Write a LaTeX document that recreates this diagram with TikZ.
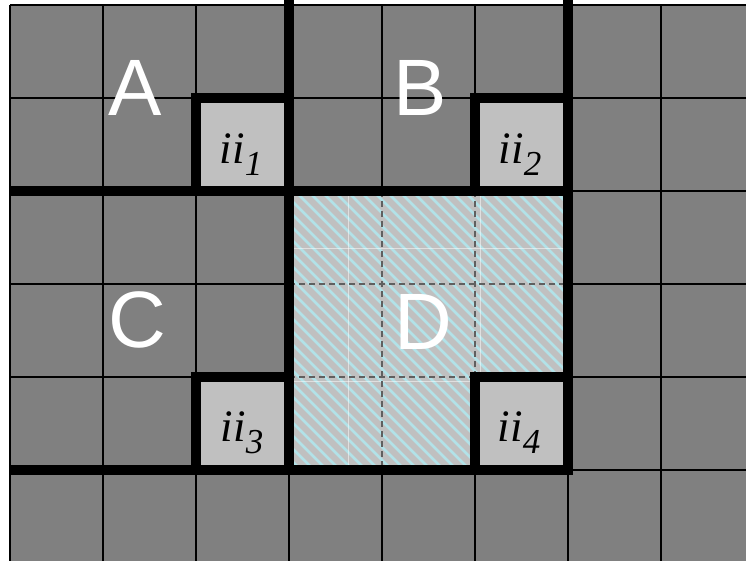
\documentclass[tikz,border=0pt]{standalone}
\usepackage{fontspec}
\setmainfont{Liberation Serif}
\setsansfont{Liberation Sans}
\usetikzlibrary{positioning}
\definecolor{cCell}{HTML}{808080}
\definecolor{cHole}{HTML}{C0C0C0}
\definecolor{cStripe}{HTML}{B2E2E8}
\definecolor{cDash}{HTML}{606060}
\definecolor{cInk}{HTML}{000000}
\tikzset{
  grid/.style={draw=cInk, line width=1.6pt},
  wall/.style={draw=cInk, line width=9.5pt, line cap=rect},
  stripe/.style={draw=cStripe, line width=2.8pt},
  inner/.style={draw=cDash, line width=1.3pt, dash pattern=on 6pt off 4pt},
  ghost/.style={draw=white, line width=0.8pt, opacity=0.5},
  region/.style={font=\sffamily\fontsize{80}{80}\selectfont, text=white, inner sep=0pt},
  hole/.style={font=\rmfamily\itshape\fontsize{45}{45}\selectfont, text=cInk, inner sep=0pt},
}
\newcommand{\iilabel}[1]{ii\raisebox{-12pt}{\fontsize{35}{35}\selectfont #1}}

\begin{document}
\begin{tikzpicture}[x=1pt, y=-1pt]
\useasboundingbox (0,0) rectangle (746,561);
\fill[white] (0,0) rectangle (746,561);
\fill[cCell] (10,5) rectangle (746,561);
% light cells
\foreach \x/\y in {196/98, 475/98, 196/377, 475/377}
  \fill[cHole] (\x,\y) rectangle ++(93,93);
% thin grid
\foreach \x in {10,103,...,661} \draw[grid] (\x,5) -- (\x,561);
\foreach \y in {5,98,...,470} \draw[grid] (10,\y) -- (746,\y);
% region D, hatched
\begin{scope}
  \clip (289,191) -- (568,191) -- (568,377) -- (475,377) -- (475,470) -- (289,470) -- cycle;
  \fill[cHole] (289,191) rectangle (568,470);
  \foreach \k in {0,...,44}
    \draw[stripe] (9+\k*13,191) -- ++(290,290);
  \draw[ghost] (348,191) -- (348,470);
  \draw[ghost] (480,191) -- (480,470);
  \draw[ghost] (289,248) -- (568,248);
  \draw[ghost] (289,381) -- (568,381);
  \foreach \x in {382,475} \draw[inner] (\x,191) -- (\x,470);
  \foreach \y in {284,377} \draw[inner] (289,\y) -- (568,\y);
\end{scope}
% thick walls
\draw[wall] (289,5) -- (289,191);
\draw[wall] (568,5) -- (568,191);
\draw[wall, line cap=butt] (10,191) -- (289,191);
\draw[wall] (289,98) -- (196,98) -- (196,191);
\draw[wall] (568,98) -- (475,98) -- (475,191);
\draw[wall] (289,191) rectangle (568,470);
\draw[wall] (289,377) -- (196,377) -- (196,470);
\draw[wall, line cap=butt] (10,470) -- (289,470);
\draw[wall] (568,377) -- (475,377) -- (475,470);
% labels
\node[region] (regA) at (135,88) {A};
\node[region] (regB) at (420,88) {B};
\node[region] (regC) at (137,320) {C};
\node[region] (regD) at (423,322) {D};
\node[hole] (ii1) at (241,155) {\iilabel{1}};
\node[hole] (ii2) at (520,155) {\iilabel{2}};
\node[hole] (ii3) at (242,433) {\iilabel{3}};
\node[hole] (ii4) at (519,433) {\iilabel{4}};
\end{tikzpicture}
\end{document}
